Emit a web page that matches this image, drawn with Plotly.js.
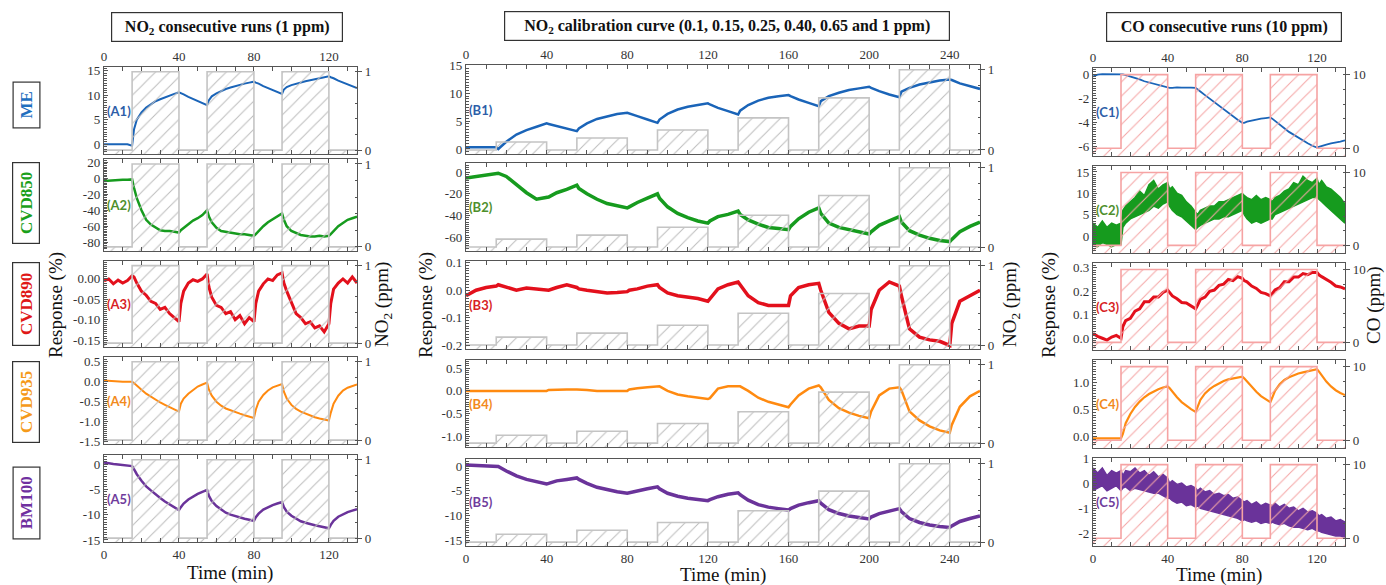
<!DOCTYPE html>
<html>
<head>
<meta charset="utf-8">
<script src="https://cdn.plot.ly/plotly-3.0.1.min.js"></script>
<style>html,body{margin:0;padding:0;background:#fff;}#chart{width:1386px;height:585px;}</style>
</head>
<body>
<div id="chart"></div>
<script>
// ---------------- DATA ----------------
const tA = [0,2.5,5,7.5,10,12.5,15,16,17.5,20,22.5,25,27.5,30,32.5,35,37.5,40,41,42.5,45,47.5,50,52.5,55,56,57.5,60,62.5,65,67.5,70,72.5,75,77.5,80,81,82.5,85,87.5,90,92.5,95,96,97.5,100,102.5,105,107.5,110,112.5,115,117.5,120,121,122.5,125,127.5,130,132.5,135];
const tB = [0,5,10,15,16,20,25,30,35,40,41,45,50,55,56,60,65,70,75,80,81,85,90,95,96,100,105,110,115,120,121,125,130,135,136,140,145,150,155,160,161,165,170,175,176,180,185,190,195,200,201,205,210,215,216,220,225,230,235,240,241,245,250,255];

// NO2 consecutive runs (1 ppm)
const respA1 = [0,0,0,0,0,0,-0.3, 3.0,5.0,6.5,7.5,8.2,8.8,9.2,9.6,10.0,10.3,10.6, 10.5,10.2,9.7,9.3,8.8,8.4,8.0, 9.0,9.8,10.4,10.9,11.3,11.6,11.9,12.2,12.4,12.6,12.8, 12.6,12.4,11.9,11.5,11.1,10.7,10.3, 11.2,11.7,12.1,12.4,12.7,12.9,13.1,13.3,13.5,13.7,13.9, 13.7,13.5,13.0,12.6,12.2,11.9,11.5];
const respA2 = [-3.5,-3,-2.5,-2.5,-2,-2,-1.5, -12,-25,-40,-52,-58,-62,-65,-66,-66,-67,-68, -65,-62,-57,-53,-50,-46,-40, -48,-55,-62,-66,-67,-68,-69,-70,-70,-71,-72, -70,-66,-60,-55,-51,-48,-44, -52,-60,-66,-69,-71,-72,-73,-73,-72,-73,-72, -70,-66,-60,-56,-52,-50,-48];
const respA3 = [-0.005,0.0,-0.012,-0.003,-0.01,-0.004,0.008, 0.005,-0.01,-0.03,-0.04,-0.055,-0.06,-0.075,-0.07,-0.085,-0.095,-0.105, -0.06,-0.03,-0.01,-0.002,-0.006,0.0,0.012, -0.02,-0.045,-0.065,-0.07,-0.085,-0.08,-0.1,-0.09,-0.11,-0.095,-0.105, -0.06,-0.03,-0.012,0.0,-0.004,0.01,0.015, -0.01,-0.03,-0.06,-0.085,-0.095,-0.11,-0.105,-0.12,-0.115,-0.13,-0.11, -0.06,-0.025,-0.01,0.0,-0.01,0.005,-0.01];
const respA4 = [0.03,0.02,0.01,0.0,0.0,0.0,0.0, -0.03,-0.1,-0.2,-0.3,-0.38,-0.45,-0.52,-0.58,-0.63,-0.68,-0.75, -0.55,-0.42,-0.3,-0.2,-0.12,-0.07,-0.02, -0.2,-0.35,-0.5,-0.6,-0.67,-0.72,-0.77,-0.8,-0.84,-0.87,-0.91, -0.7,-0.5,-0.33,-0.22,-0.14,-0.09,-0.06, -0.25,-0.42,-0.58,-0.68,-0.75,-0.8,-0.85,-0.89,-0.92,-0.95,-0.97, -0.78,-0.55,-0.35,-0.22,-0.15,-0.1,-0.07];
const respA5 = [0.3,0.1,0,-0.1,-0.2,-0.3,-0.4, -1,-2,-3.3,-4.4,-5.2,-6,-6.7,-7.4,-8,-8.6,-9.1, -8.5,-7.8,-7,-6.4,-5.9,-5.5,-5.1, -6.3,-7.3,-8.3,-9,-9.6,-10,-10.3,-10.6,-10.8,-11,-11.2, -10.5,-9.8,-9,-8.5,-8.1,-7.8,-7.5, -8.5,-9.4,-10.2,-10.8,-11.3,-11.6,-11.9,-12.1,-12.3,-12.5,-12.7, -12,-11.2,-10.4,-9.9,-9.5,-9.2,-8.9];

// NO2 calibration curve
const respB1 = [0.3,0.3,0.3,0.3, 0.0,1.3,2.6,3.4,4.0,4.6, 4.5,4.1,3.6,3.2, 3.7,4.6,5.4,5.9,6.3,6.5, 6.4,5.9,5.3,4.7, 5.3,6.3,7.1,7.6,7.9,8.2, 8.0,7.4,6.8,6.2, 6.9,7.9,8.7,9.2,9.5,9.7, 9.5,8.9,8.3,7.7, 8.6,9.5,10.1,10.6,10.9,11.2, 11.0,10.4,9.8,9.3, 10.3,11.0,11.6,12.0,12.3,12.5, 12.4,11.8,11.3,10.8];
const respB2 = [-5.5,-4,-2,-0.5, -1,-4,-12,-19,-25,-24, -23,-19,-16,-12, -15,-20,-25,-29,-31,-33, -32,-28,-24,-20, -24,-32,-38,-42,-45,-47, -45,-41,-39,-36, -39,-44,-48,-51,-52,-53, -50,-43,-37,-33, -38,-47,-51,-53,-55,-57, -55,-49,-45,-41, -46,-54,-58,-61,-63,-64, -62,-55,-50,-46];
const respB3 = [-0.02,0.0,0.01,0.015, 0.02,0.01,0.0,0.008,0.005,0.0, 0.0,0.01,0.02,0.01, 0.005,0.0,-0.005,-0.01,-0.008,-0.005, 0.0,0.005,0.015,0.02, 0.01,-0.01,-0.02,-0.025,-0.03,-0.04, -0.03,0.005,0.02,0.03, 0.02,-0.02,-0.045,-0.055,-0.055,-0.055, -0.02,0.01,0.02,0.025, 0.0,-0.08,-0.12,-0.14,-0.13,-0.13, -0.07,0.0,0.03,0.015, -0.02,-0.14,-0.17,-0.18,-0.185,-0.2, -0.12,-0.04,-0.02,0.0];
const respB4 = [0,0,0,0, 0,0,0,0,0,0, 0.02,0.03,0.03,0.03, 0.03,0.02,0.0,0.0,-0.01,0.0, 0.03,0.06,0.08,0.1, 0.1,0.0,-0.08,-0.12,-0.15,-0.18, -0.16,0.05,0.1,0.1, 0.1,0.0,-0.15,-0.24,-0.3,-0.36, -0.3,-0.1,0.05,0.12, 0.08,-0.2,-0.38,-0.48,-0.55,-0.6, -0.45,-0.1,0.05,0.08, 0.02,-0.45,-0.65,-0.78,-0.87,-0.92, -0.75,-0.35,-0.12,0.0];
const respB5 = [0.2,0.1,0.0,0.0, -0.1,-1.0,-2.0,-2.7,-3.2,-3.6, -3.5,-3.0,-2.7,-2.4, -2.7,-3.5,-4.3,-4.8,-5.2,-5.5, -5.4,-5.0,-4.6,-4.2, -4.6,-5.5,-6.1,-6.5,-6.8,-7.0, -6.8,-6.2,-5.7,-5.4, -5.8,-6.9,-7.8,-8.3,-8.6,-8.9, -8.6,-7.9,-7.4,-7.0, -7.5,-8.8,-9.6,-10.1,-10.4,-10.7, -10.3,-9.6,-9.1,-8.6, -9.2,-10.6,-11.4,-11.9,-12.2,-12.4, -12.1,-11.2,-10.6,-10.1];

// CO consecutive runs (10 ppm)
const respC1 = [-0.2,-0.05,0,0,0,0,0, -0.03,-0.1,-0.2,-0.3,-0.45,-0.6,-0.7,-0.85,-0.95,-1.05,-1.15, -1.15,-1.15,-1.1,-1.12,-1.1,-1.12,-1.15, -1.25,-1.45,-1.75,-2.05,-2.35,-2.65,-2.95,-3.2,-3.5,-3.8,-4.05, -4.05,-3.95,-3.85,-3.8,-3.7,-3.65,-3.6, -3.7,-3.9,-4.2,-4.5,-4.8,-5.05,-5.3,-5.55,-5.75,-5.95,-6.1, -6.05,-5.95,-5.85,-5.75,-5.7,-5.6,-5.5];
const respC2Upper = [3,2,3.5,2,3,2.5,3, 6,7,8,9,10.5,9.5,12,13,11,12,12.5, 11,11.5,10,9.5,8,7,5.5, 5,6,6.5,7,7,8,8,8.5,9,9.5,10, 9.5,9,8.5,9.5,8.5,9,8.5, 8,9,9.5,10.5,11,12.5,12,14,13,12.5,13.5, 12,13,11.5,11,10,9,7.5];
const respC2Lower = [-2,-2.5,-1.5,-2,-2.5,-2,-2, 2,3,4,4.5,5,5.5,6,7,6.5,7.5,8, 7,6,5,4.5,3.5,2.5,1.5, 2,2.5,3,3.5,4,4,4.5,4.5,5,5.5,6, 5,4,3,3.5,3,3.5,4, 4,5,5.5,6,6.5,7,7.5,8,8.5,9,9, 8.5,8,7,6,5,4,3];
const respC3 = [0.02,0.008,0.0,-0.008,0.005,0.012,0.0, 0.05,0.075,0.085,0.115,0.125,0.155,0.155,0.175,0.175,0.195,0.205, 0.195,0.18,0.168,0.152,0.15,0.138,0.125, 0.14,0.165,0.175,0.2,0.205,0.225,0.23,0.25,0.245,0.262,0.255, 0.245,0.24,0.222,0.212,0.195,0.19,0.18, 0.19,0.205,0.215,0.24,0.24,0.26,0.26,0.275,0.27,0.28,0.28, 0.27,0.262,0.25,0.238,0.222,0.218,0.21];
const respC4 = [-0.03,-0.03,-0.03,-0.03,-0.03,-0.03,-0.03, 0.05,0.25,0.42,0.55,0.65,0.73,0.79,0.84,0.88,0.91,0.93, 0.9,0.83,0.73,0.64,0.57,0.51,0.46, 0.55,0.68,0.8,0.88,0.94,0.99,1.03,1.06,1.08,1.1,1.11, 1.08,1.02,0.92,0.83,0.75,0.69,0.64, 0.72,0.85,0.97,1.05,1.1,1.14,1.17,1.19,1.21,1.23,1.25, 1.21,1.13,1.02,0.93,0.86,0.81,0.77];
const respC5Upper = [0.6,0.4,0.6,0.3,0.5,0.4,0.5, 0.3,0.5,0.45,0.6,0.4,0.5,0.3,0.45,0.25,0.35,0.2, 0.0,0.1,-0.05,0.0,-0.15,-0.1,-0.2, -0.3,-0.2,-0.35,-0.3,-0.45,-0.4,-0.5,-0.45,-0.6,-0.55,-0.7, -0.75,-0.7,-0.85,-0.75,-0.9,-0.8,-0.85, -0.9,-0.8,-0.95,-0.85,-1.0,-0.95,-1.1,-1.0,-1.15,-1.1,-1.2, -1.3,-1.25,-1.4,-1.35,-1.5,-1.45,-1.55];
const respC5Lower = [-0.3,-0.2,-0.1,-0.3,-0.2,-0.1,-0.3, -0.2,-0.15,-0.3,-0.2,-0.25,-0.3,-0.35,-0.4,-0.4,-0.5,-0.6, -0.6,-0.7,-0.8,-0.75,-0.9,-0.85,-0.95, -0.9,-1.0,-1.05,-1.1,-1.15,-1.2,-1.25,-1.3,-1.35,-1.4,-1.5, -1.45,-1.5,-1.55,-1.5,-1.6,-1.55,-1.6, -1.55,-1.6,-1.65,-1.6,-1.7,-1.75,-1.75,-1.8,-1.85,-1.8,-1.9, -1.9,-1.95,-2.0,-2.05,-2.1,-2.1,-2.15];

// gas exposure steps
const gasTimeA = [0,15,40,55,80,95,120,135];
const gasNO2A = [0,1,0,1,0,1,0,0];
const gasTimeB = [0,15,40,55,80,95,120,135,160,175,200,215,240,255];
const gasNO2B = [0,0.1,0,0.15,0,0.25,0,0.40,0,0.65,0,1,0,0];
const gasTimeC = [0,15,40,55,80,95,120,135];
const gasCO = [0,10,0,10,0,10,0,0];

// tick labels
const xTicksA = [0,40,80,120];
const xTicksB = [0,40,80,120,160,200,240];
const xTicksC = [0,40,80,120];
const yTicksA = [[0,5,10,15],[-80,-60,-40,-20,0,20],[-0.15,-0.10,-0.05,0.00],[-1.5,-1.0,-0.5,0.0,0.5],[-15,-10,-5,0]];
const yTicksB = [[0,5,10,15],[-60,-40,-20,0],[-0.2,-0.1,0.0,0.1],[-1.0,-0.5,0.0,0.5],[-15,-10,-5,0]];
const yTicksC = [[-6,-4,-2,0],[0,5,10,15],[0.0,0.1,0.2,0.3],[0.0,0.5,1.0],[-2,-1,0,1]];
const yDecimals = [[0,0,2,1,0],[0,0,1,1,0],[0,0,1,1,0]];
const gasTicksNO2 = [0,1];
const gasTicksCO = [0,10];

const sensorNames = ['ME','CVD850','CVD890','CVD935','BM100'];
const panelLabels = [['(A1)','(A2)','(A3)','(A4)','(A5)'],['(B1)','(B2)','(B3)','(B4)','(B5)'],['(C1)','(C2)','(C3)','(C4)','(C5)']];
const columnTitles = ['<b>NO<sub>2</sub> consecutive runs (1 ppm)</b>','<b>NO<sub>2</sub> calibration curve (0.1, 0.15, 0.25, 0.40, 0.65 and 1 ppm)</b>','<b>CO consecutive runs (10 ppm)</b>'];

// ---------------- STYLE / LAYOUT ----------------
const W = 1386, H = 585;
const SERIF = '"Liberation Serif", "Times New Roman", serif';
const SANS = 'Lato, "Open Sans", sans-serif';
const lineColors = ['#1a64b8','#169b1e','#e3101c','#ff8a10','#6a339a'];
const labelColors = ['#2d5ea8','#4e8f2c','#d81f26','#f28a1c','#6f3c9c'];
const rowTextColors = ['#1f6fbf','#1aa01a','#e01818','#f59a1a','#7030a0'];

const cols = [
  {x:[104,357], rows:[[67,154],[159,251],[261,347],[357,444],[455,542]], xr:[0,135], xt:xTicksA, t:tA,
   series:[{y:respA1,w:2},{y:respA2,w:2.5},{y:respA3,w:3},{y:respA4,w:2},{y:respA5,w:2.5}],
   yr:[[-2,15.8],[-91,24],[-0.167,0.044],[-1.56,0.62],[-15.4,1.8]], yt:yTicksA,
   gt:gasTimeA, g:gasNO2A, gr:[-0.05,1.06], gtk:gasTicksNO2, rect:'#c4c4c4', hatch:'#bdbdbd'},
  {x:[466,980], rows:[[65,154],[163,251],[261,349],[360,447],[459,546]], xr:[0,255], xt:xTicksB, t:tB,
   series:[{y:respB1,w:2.5},{y:respB2,w:3.5},{y:respB3,w:3.5},{y:respB4,w:2.5},{y:respB5,w:3.5}],
   yr:[[-0.9,15.1],[-72.7,8.4],[-0.213,0.106],[-1.235,0.68],[-16.15,1.42]], yt:yTicksB,
   gt:gasTimeB, g:gasNO2B, gr:[-0.05,1.06], gtk:gasTicksNO2, rect:'#c4c4c4', hatch:'#bdbdbd'},
  {x:[1093,1345], rows:[[68,156],[166,253],[263,350],[360,448],[458,546]], xr:[0,135], xt:xTicksC, t:tA,
   series:[{y:respC1,w:1.8},{band:[respC2Upper,respC2Lower]},{y:respC3,w:3},{y:respC4,w:2.2},{band:[respC5Upper,respC5Lower]}],
   yr:[[-6.8,0.5],[-4,16.4],[-0.05,0.32],[-0.21,1.42],[-2.5,1.0]], yt:yTicksC,
   gt:gasTimeC, g:gasCO, gr:[-1.05,10.9], gtk:gasTicksCO, rect:'#f6a3a3', hatch:'#f5a5a5'}
];

const traces = [];
const layout = {
  width: W, height: H, margin:{l:0,r:0,t:0,b:0},
  paper_bgcolor:'#fff', plot_bgcolor:'rgba(0,0,0,0)', showlegend:false,
  font:{family:SERIF, size:13, color:'#333'},
  annotations: []
};
const axCol = '#555';
const tf = {family:SERIF, size:13, color:'#333'};

cols.forEach((c, ci) => {
  c.rows.forEach((r, ri) => {
    const k = ci*5 + ri + 1;
    const k2 = k + 15;
    const xId = k === 1 ? 'x' : 'x' + k;
    const yId = k === 1 ? 'y' : 'y' + k;
    const y2Id = 'y' + k2;
    const xName = k === 1 ? 'xaxis' : 'xaxis' + k;
    const yName = k === 1 ? 'yaxis' : 'yaxis' + k;
    const y2Name = 'yaxis' + k2;
    const dec = yDecimals[ci][ri];
    const tmax = c.xr[1];

    layout[xName] = {
      domain:[c.x[0]/W, c.x[1]/W], anchor:yId, range:c.xr,
      tickvals:c.xt, ticktext:c.xt.map(v=>String(v)),
      side: ri === 0 ? 'top' : 'bottom', showticklabels: ri === 0 || ri === 4,
      ticks:'inside', ticklen:4, tickcolor:axCol, mirror:'allticks',
      showline:true, linecolor:axCol, linewidth:1.2, zeroline:false, showgrid:false,
      minor:{ticks:'inside', ticklen:2.5, dtick:10, tickcolor:axCol, showgrid:false},
      tickfont:tf, fixedrange:true
    };
    layout[yName] = {
      domain:[1 - r[1]/H, 1 - r[0]/H], anchor:xId, range:c.yr[ri],
      tickvals:c.yt[ri], ticktext:c.yt[ri].map(v=>v.toFixed(dec)),
      ticks:'inside', ticklen:4, tickcolor:axCol, showline:true, linecolor:axCol, linewidth:1.2,
      zeroline:false, showgrid:false, tickfont:tf,
      minor:{ticks:'inside', ticklen:2.5, nticks:12, tickcolor:axCol, showgrid:false}
    };
    layout[y2Name] = {
      overlaying:yId, anchor:xId, side:'right', range:c.gr,
      tickvals:c.gtk, ticktext:c.gtk.map(v=>String(v)),
      ticks:'outside', ticklen:4, tickcolor:axCol, showline:true, linecolor:axCol, linewidth:1.2,
      zeroline:false, showgrid:false, tickfont:tf,
      minor:{ticks:'inside', ticklen:2.5, dtick:(c.gr[1]>2?2:0.2), tickcolor:axCol, showgrid:false}
    };

    // response data
    const s = c.series[ri];
    if (s.band) {
      traces.push({type:'scatter', mode:'lines', x:c.t, y:s.band[0], xaxis:xId, yaxis:yId,
        line:{color:lineColors[ri], width:1.5}, hoverinfo:'skip'});
      traces.push({type:'scatter', mode:'lines', x:c.t, y:s.band[1], xaxis:xId, yaxis:yId,
        line:{color:lineColors[ri], width:1.5}, fill:'tonexty', fillcolor:lineColors[ri], hoverinfo:'skip'});
    } else {
      traces.push({type:'scatter', mode:'lines', x:c.t, y:s.y, xaxis:xId, yaxis:yId,
        line:{color:lineColors[ri], width:s.w}, hoverinfo:'skip'});
    }

    // gas exposure: hatched step area reaching down to the axis floor
    traces.push({type:'scatter', mode:'lines', x:[c.xr[0], tmax], y:[c.gr[0], c.gr[0]],
      xaxis:xId, yaxis:y2Id, line:{width:0, color:'rgba(0,0,0,0)'}, hoverinfo:'skip'});
    traces.push({type:'scatter', mode:'lines', x:c.gt, y:c.g, xaxis:xId, yaxis:y2Id,
      line:{shape:'hv', color:c.rect, width:1.6}, fill:'tonexty', fillcolor:'rgba(0,0,0,0)',
      fillpattern:{shape:'/', fgcolor:c.hatch, bgcolor:'rgba(0,0,0,0)', size:10, solidity:0.1, fillmode:'replace'},
      hoverinfo:'skip'});

    // panel label
    layout.annotations.push({xref:'paper', yref:'paper', x:(c.x[0]+1)/W, y:1-((r[0]+r[1])/2)/H,
      xanchor:'left', yanchor:'middle', text:'<b>'+panelLabels[ci][ri]+'</b>', showarrow:false,
      font:{family:SANS, size:13, color:labelColors[ri]}});
  });
});

// column titles
const titleBoxes = [[227,27,222],[727,26,436],[1224,27,226]];
titleBoxes.forEach((b, i) => {
  layout.annotations.push({xref:'paper', yref:'paper', x:b[0]/W, y:1-b[1]/H, xanchor:'center', yanchor:'middle',
    text:columnTitles[i], showarrow:false, width:b[2], height:20, align:'center',
    font:{family:SERIF, size:16, color:'#111'}, bordercolor:'#333', borderwidth:1.2, borderpad:4, bgcolor:'#fff'});
});

// row labels
const rowBoxes = [[105.5,41],[203,76],[304,78],[402,76],[503.5,67]];
rowBoxes.forEach((b, i) => {
  layout.annotations.push({xref:'paper', yref:'paper', x:26/W, y:1-b[0]/H, xanchor:'center', yanchor:'middle',
    text:'<b>'+sensorNames[i]+'</b>', textangle:-90, showarrow:false, width:b[1], height:22, align:'center',
    font:{family:SERIF, size:17, color:rowTextColors[i]}, bordercolor:'#333', borderwidth:1.2, borderpad:2, bgcolor:'#fff'});
});

// axis titles
const yTitles = [[56,'Response (%)'],[383,'NO<sub>2</sub> (ppm)'],[426,'Response (%)'],[1011,'NO<sub>2</sub> (ppm)'],[1049,'Response (%)'],[1374,'CO (ppm)']];
yTitles.forEach(a => {
  layout.annotations.push({xref:'paper', yref:'paper', x:a[0]/W, y:1-305/H, xanchor:'center', yanchor:'middle',
    text:a[1], textangle:-90, showarrow:false, font:{family:SERIF, size:19, color:'#111'}});
});
const xTitles = [[230,573],[723,575],[1219,575]];
xTitles.forEach(a => {
  layout.annotations.push({xref:'paper', yref:'paper', x:a[0]/W, y:1-a[1]/H, xanchor:'center', yanchor:'middle',
    text:'Time (min)', showarrow:false, font:{family:SERIF, size:19, color:'#111'}});
});

Plotly.newPlot('chart', traces, layout, {staticPlot:true, displayModeBar:false});
</script>
</body>
</html>
